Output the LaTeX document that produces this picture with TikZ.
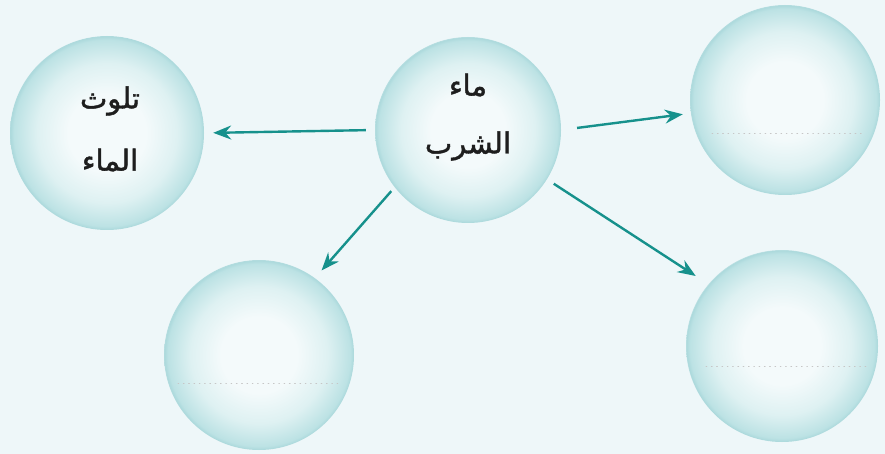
\documentclass[tikz,border=0pt]{standalone}
\usepackage{fontspec}
\usetikzlibrary{arrows.meta}
\newfontfamily\arabicfont[Script=Arabic,FakeBold=1.5]{DejaVu Sans}
\TeXXeTstate=1
\definecolor{paper}{RGB}{238,247,249}
\definecolor{bubin}{RGB}{244,250,251}
\definecolor{bubmid}{RGB}{222,241,242}
\definecolor{bubout}{RGB}{188,226,228}
\definecolor{bubrim}{RGB}{170,216,219}
\definecolor{teal}{RGB}{22,145,140}
\definecolor{ink}{RGB}{30,30,30}
\pgfdeclareradialshading{bubshade}{\pgfpoint{0bp}{0bp}}{color(0bp)=(bubin); color(10bp)=(bubin); color(18bp)=(bubmid); color(24bp)=(bubout); color(25bp)=(bubrim); color(25.5bp)=(paper); color(50bp)=(paper)}

\begin{document}
\begin{tikzpicture}[x=1pt, y=-1pt,
  bubble/.style={circle, minimum size=190pt, inner sep=0pt, shading=bubshade},
  word/.style={font=\arabicfont\fontsize{29}{33}\selectfont, text=ink, inner sep=0pt},
  link/.style={teal, line width=2.4pt, -{Stealth[length=18pt,width=14pt,inset=6pt]}},
  guide/.style={gray!45, line width=0.8pt, dash pattern=on 0.8pt off 4.5pt, line cap=round}]
% Background
\useasboundingbox[fill=paper] (0,0) rectangle (885,454);
% Bubbles
\node[bubble, minimum size=186pt] (drink) at (468,130) {};
\node[bubble, minimum size=194pt] (pollute) at (107,133) {};
\node[bubble] (topr) at (785,100) {};
\node[bubble] (botl) at (259,355) {};
\node[bubble, minimum size=192pt] (botr) at (782,346) {};
% Texts
\node[word] (drinka) at (468,85) {\beginR ماء\endR};
\node[word] (drinkb) at (468,146) {\beginR الشرب\endR};
\node[word] (pollutea) at (110,101) {\beginR تلوث\endR};
\node[word] (polluteb) at (110,160) {\beginR الماء\endR};
% Dotted writing lines
\draw[guide] (712,133) -- (862,133);
\draw[guide] (178,383) -- (340,383);
\draw[guide] (706,366) -- (866,366);
% Arrows
\draw[link, shorten <=9pt, shorten >=9pt] (drink.180) -- (pollute.0);
\draw[link, shorten <=16pt, shorten >=8pt] (drink.0) -- (topr.188);
\draw[link, shorten <=5pt, shorten >=10pt] (drink.218) -- (botl.54);
\draw[link, shorten <=8pt, shorten >=15pt] (drink.328) -- (botr.140);
\end{tikzpicture}
\end{document}
